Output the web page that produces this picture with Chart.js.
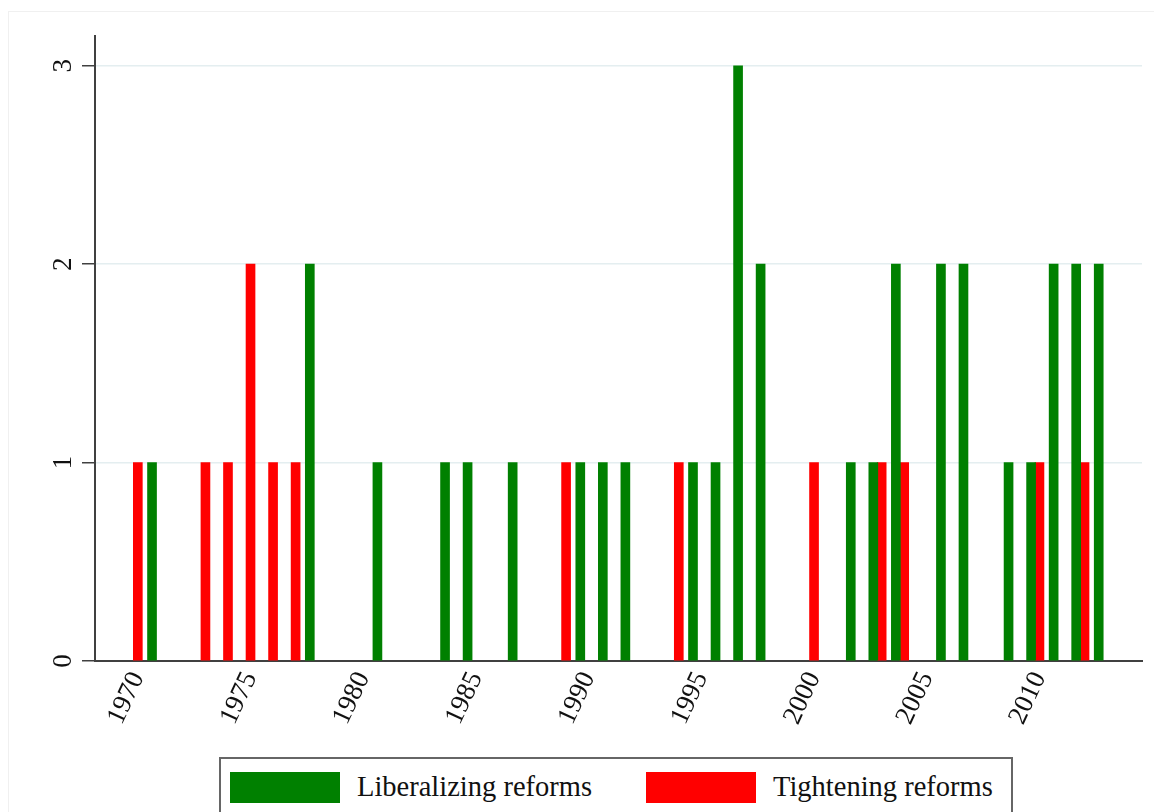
<!DOCTYPE html>
<html>
<head>
<meta charset="utf-8">
<script src="https://cdn.jsdelivr.net/npm/chart.js@4.4.1/dist/chart.umd.min.js"></script>
<style>
  html, body { margin: 0; padding: 0; background: #fff; }
  #wrap { position: relative; width: 1154px; height: 812px; overflow: hidden; }
  #frame { position: absolute; left: 8px; top: 11px; right: -10px; bottom: -10px;
           border-left: 1px solid #f0f0f0; border-top: 1px solid #f0f0f0; }
  canvas { position: absolute; left: 0; top: 0; }
  #legend { position: absolute; left: 219px; top: 757px; width: 794px; height: 80px;
            border: 2px solid #666; box-sizing: border-box; background: #fff;
            font-family: "Liberation Serif", "Times New Roman", serif; font-size: 28.5px; color: #111; }
  .item { position: absolute; top: 12px; display: flex; align-items: center; }
  .sw { width: 110px; height: 31px; margin-right: 17px; }
</style>
</head>
<body>
<div id="wrap">
  <div id="frame"></div>
  <canvas id="reformChart" width="1154" height="812"></canvas>
  <div id="legend"></div>
</div>
<script>
// reforms per year
const libYears = [1971, 1978, 1981, 1984, 1985, 1987, 1990, 1991, 1992, 1995, 1996, 1997,
                  1998, 2002, 2003, 2004, 2006, 2007, 2009, 2010, 2011, 2012, 2013];
const libCounts = [1, 2, 1, 1, 1, 1, 1, 1, 1, 1, 1, 3,
                   2, 1, 1, 2, 2, 2, 1, 1, 2, 2, 2];
const tightYears = [1970, 1973, 1974, 1975, 1976, 1977, 1989, 1994, 2000, 2003, 2004, 2010, 2012];
const tightCounts = [1, 1, 1, 2, 1, 1, 1, 1, 1, 1, 1, 1, 1];

const yearTicks = [1970, 1975, 1980, 1985, 1990, 1995, 2000, 2005, 2010];
const countTicks = [0, 1, 2, 3];

// green bars sit just left of the year, red on it
const libShift = -0.37;

const serif = '"Liberation Serif", "Times New Roman", serif';

const yLabels = {
  id: "yLabels",
  afterDraw(chart) {
    const { ctx, scales } = chart;
    ctx.save();
    ctx.font = "27px " + serif;
    ctx.fillStyle = "#111";
    ctx.textAlign = "center";
    ctx.textBaseline = "middle";
    countTicks.forEach((v) => {
      const py = scales.y.getPixelForValue(v);
      ctx.save();
      ctx.translate(64, py);
      ctx.rotate(-Math.PI / 2);
      ctx.fillText(String(v), 0, 0);
      ctx.restore();
    });
    ctx.restore();
  },
};

const ctx = document.getElementById("reformChart").getContext("2d");
const chart = new Chart(ctx, {
  type: "bar",
  data: {
    datasets: [
      {
        label: "Liberalizing reforms",
        data: libYears.map((yr, i) => ({ x: yr + libShift, y: libCounts[i] })),
        backgroundColor: "#008000",
        barThickness: 9,
        grouped: false,
      },
      {
        label: "Tightening reforms",
        data: tightYears.map((yr, i) => ({ x: yr, y: tightCounts[i] })),
        backgroundColor: "#ff0000",
        barThickness: 9,
        grouped: false,
      },
    ],
  },
  options: {
    responsive: false,
    animation: false,
    layout: { padding: { top: 36, right: 12, left: 0, bottom: 0 } },
    plugins: { legend: { display: false }, tooltip: { enabled: false } },
    scales: {
      x: {
        type: "linear",
        min: 1968.1,
        max: 2014.55,
        offset: false,
        grid: { display: false, drawTicks: false },
        border: { display: true, color: "#404040", width: 2 },
        afterBuildTicks: (s) => { s.ticks = yearTicks.map((v) => ({ value: v })); },
        afterFit: (s) => { s.height = 151; },
        ticks: {
          autoSkip: false,
          minRotation: 65,
          maxRotation: 65,
          padding: 6,
          color: "#111",
          font: { family: serif, size: 27 },
          callback: (v) => String(v),
        },
      },
      y: {
        min: 0,
        max: 3.15,
        afterBuildTicks: (s) => { s.ticks = countTicks.map((v) => ({ value: v })); },
        afterFit: (s) => { s.width = 95; },
        grid: {
          color: (c) => (c.tick && c.tick.value === 0 ? "transparent" : "#e4eef0"),
          tickColor: "#404040",
          tickLength: 13,
          lineWidth: 1.5,
        },
        border: { color: "#404040", width: 2 },
        ticks: { display: false },
      },
    },
  },
  plugins: [yLabels],
});

// legend box under the plot
const legend = document.getElementById("legend");
const itemLeft = [9, 425];
chart.data.datasets.forEach((ds, i) => {
  const item = document.createElement("div");
  item.className = "item";
  item.style.left = itemLeft[i] + "px";
  const sw = document.createElement("div");
  sw.className = "sw";
  sw.style.background = ds.backgroundColor;
  const txt = document.createElement("span");
  txt.textContent = ds.label;
  item.appendChild(sw);
  item.appendChild(txt);
  legend.appendChild(item);
});
</script>
</body>
</html>
